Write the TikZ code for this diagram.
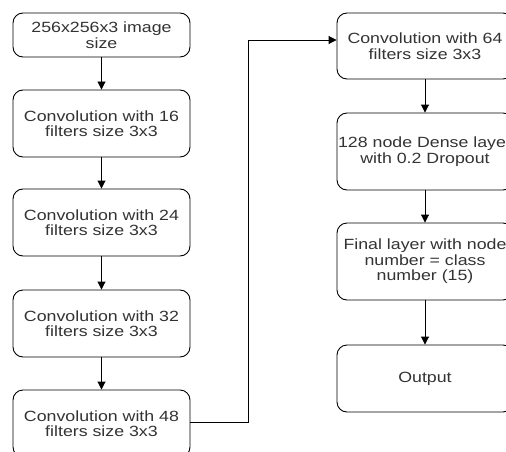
\documentclass[tikz,border=0pt]{standalone}
\usepackage{fontspec}
\setmainfont[FakeStretch=1.2]{Liberation Sans}
\usetikzlibrary{arrows.meta}
\definecolor{txt}{HTML}{333333}
\begin{document}
\begin{tikzpicture}[x=1pt,y=-1pt,
  box/.style={draw=black,line width=0.9pt,rounded corners=10pt,minimum width=177pt,align=center,
    text=txt,font=\fontsize{14.8}{15.5}\selectfont,inner sep=0pt},
  conn/.style={draw=black,line width=0.9pt,-{Triangle[length=8pt,width=8pt]}}]
\useasboundingbox (0,0) rectangle (506,452);
\clip (0,0) rectangle (506,452);
\fill[white] (0,0) rectangle (506,452);
\node[box,minimum height=44pt] (a) at (101.5,35) {256x256x3 image\\size};
\node[box,minimum height=67pt] (b) at (101.5,123.5) {Convolution with 16\\filters size 3x3};
\node[box,minimum height=67pt] (c) at (101.5,222.5) {Convolution with 24\\filters size 3x3};
\node[box,minimum height=67pt] (d) at (101.5,323.5) {Convolution with 32\\filters size 3x3};
\node[box,minimum height=67pt] (e) at (101.5,423.5) {Convolution with 48\\filters size 3x3};
\node[box,minimum height=66pt,minimum width=176pt] (f) at (425,46) {Convolution with 64\\filters size 3x3};
\node[box,minimum height=77pt,minimum width=176pt] (g) at (425,151.5) {128 node Dense layer\\with 0.2 Dropout};
\node[box,minimum height=77pt,minimum width=176pt] (h) at (425,261.5) {Final layer with node\\number = class\\number (15)};
\node[box,minimum height=67pt,minimum width=176pt] (i) at (425,378.5) {Output};
\coordinate (k1) at (248,422);
\coordinate (k2) at (248,40);
\draw[conn] (a) -- (b);
\draw[conn] (b) -- (c);
\draw[conn] (c) -- (d);
\draw[conn] (d) -- (e);
\draw[conn] (e.east |- k1) -- (k1) -- (k2) -- (k2 -| f.west);
\draw[conn] (f) -- (g);
\draw[conn] (g) -- (h);
\draw[conn] (h) -- (i);
\end{tikzpicture}
\end{document}
